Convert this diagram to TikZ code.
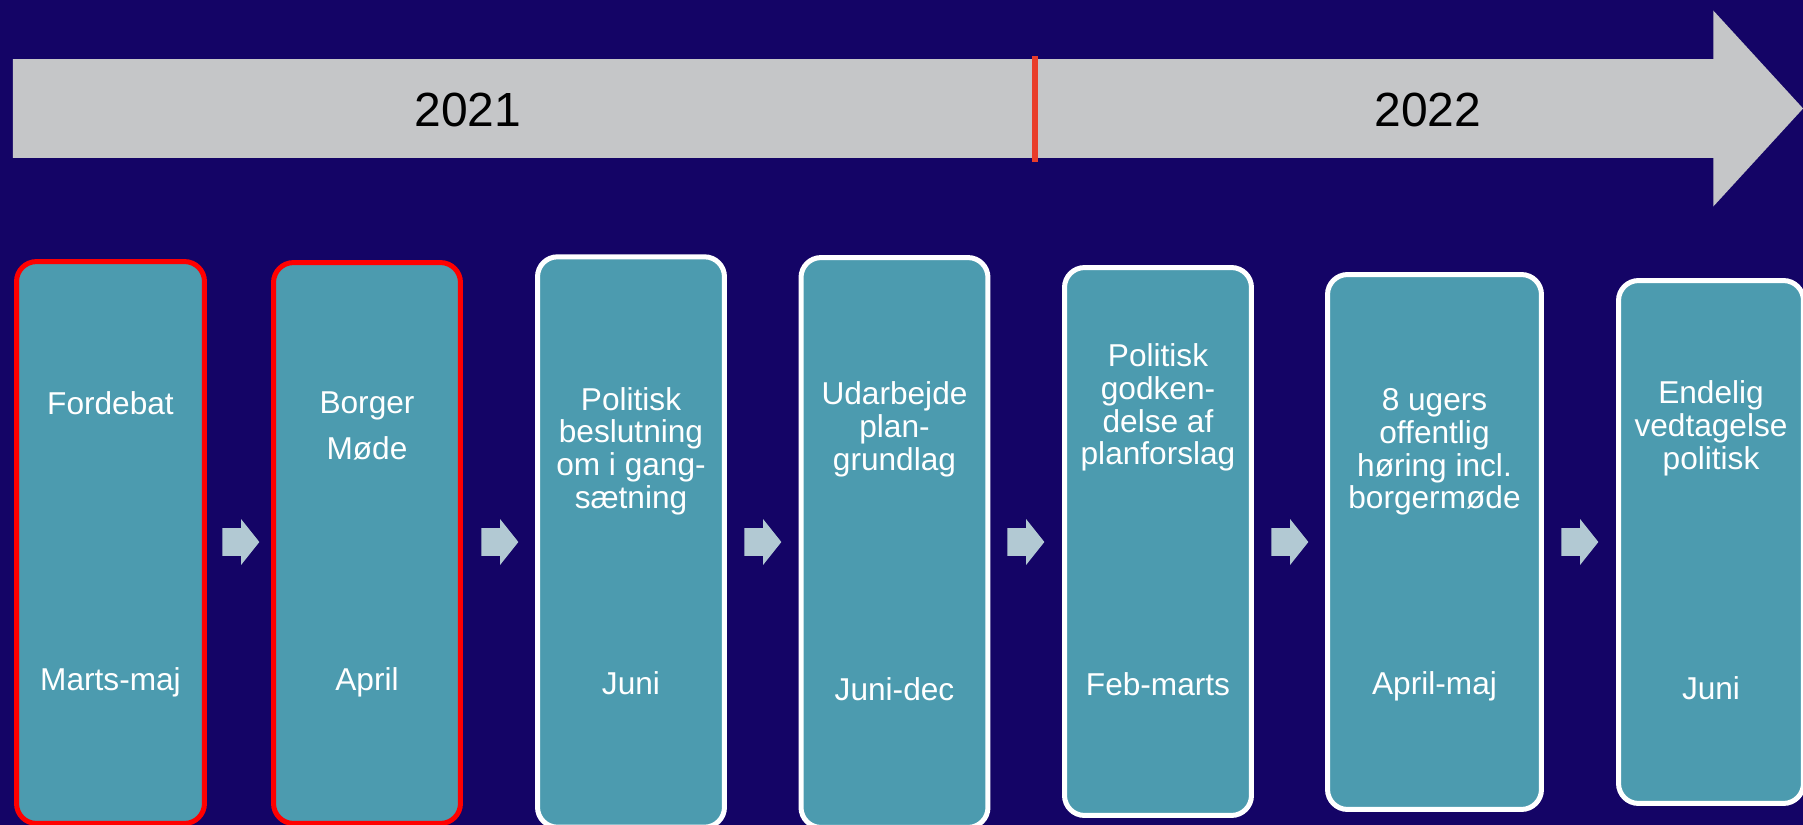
\documentclass[tikz,border=0pt]{standalone}
\usepackage{fontspec}
\setmainfont{Liberation Sans}
\usepackage{tikz}
\usetikzlibrary{positioning, shapes.arrows}

\definecolor{bgnavy}{RGB}{20,4,102}
\definecolor{stageteal}{RGB}{76,155,175}
\definecolor{bargrey}{RGB}{197,198,200}
\definecolor{stepgrey}{RGB}{178,201,211}
\definecolor{cutred}{RGB}{233,61,42}

\begin{document}
\begin{tikzpicture}[
        x=0.02cm, y=-0.02cm,
        stage/.style={rectangle, rounded corners=0.4cm, fill=stageteal, draw=white, line width=0.1cm, inner sep=0pt},
        past/.style={draw=red},
        title/.style={text=white, font=\fontsize{18}{18.5}\selectfont, align=center, anchor=base, inner sep=0pt},
        year/.style={font=\fontsize{27.3}{30}\selectfont, anchor=base, inner sep=0pt},
        flow/.style={single arrow, fill=stepgrey, minimum height=0.74cm, inner xsep=0pt, inner ysep=0.27cm,
            single arrow head extend=0.18cm, single arrow tip angle=103, anchor=tail}
    ]

        \useasboundingbox (0,0) rectangle (1803,825);
        \clip (0,0) rectangle (1803,825);
        \fill[bgnavy] (0,0) rectangle (1803,825);

        % timeline
        \node[single arrow, fill=bargrey, minimum height=35.81cm, inner xsep=0pt, inner ysep=0.98cm,
            single arrow head extend=0.97cm, single arrow tip angle=95, anchor=tail] (timeline) at (12.6,108.5) {};
        \node[year] (y2021) at (468,126.5) {2021};
        \node[year] (y2022) at (1428,126.5) {2022};
        \coordinate (cuttop) at (1035,56);
        \coordinate (cutbot) at (1035,162);
        \draw[cutred, line width=0.12cm] (cuttop) -- (cutbot);

        % stages
        \node[stage, past, minimum width=3.76cm, minimum height=11.24cm] (b1) at (110.5,542.5) {};
        \node[stage, past, minimum width=3.74cm, minimum height=11.22cm] (b2) at (367,543) {};
        \node[stage, minimum width=3.74cm, minimum height=11.41cm] (b3) at (631,542) {};
        \node[stage, minimum width=3.74cm, minimum height=11.40cm] (b4) at (894.5,542.5) {};
        \node[stage, minimum width=3.74cm, minimum height=10.96cm] (b5) at (1158,541.5) {};
        \node[stage, minimum width=4.28cm, minimum height=10.70cm] (b6) at (1434.5,542) {};
        \node[stage, minimum width=3.70cm, minimum height=10.46cm] (b7) at (1711,542) {};

        \node[flow] (s1) at (222,542) {};
        \node[flow] (s2) at (481,542) {};
        \node[flow] (s3) at (744,542) {};
        \node[flow] (s4) at (1007,542) {};
        \node[flow] (s5) at (1271,542) {};
        \node[flow] (s6) at (1561,542) {};

        % base = last line
        \node[title] (t1) at (b1 |- 0,414) {Fordebat};
        \node[title] (d1) at (b1 |- 0,690) {Marts-maj};
        \node[title] (t2) at (b2 |- 0,459) {Borger\\[7.5pt]Møde};
        \node[title] (d2) at (b2 |- 0,690) {April};
        \node[title] (t3) at (b3 |- 0,508) {Politisk\\beslutning\\om i gang-\\sætning};
        \node[title] (d3) at (b3 |- 0,694) {Juni};
        \node[title] (t4) at (b4 |- 0,470) {Udarbejde\\plan-\\grundlag};
        \node[title] (d4) at (b4 |- 0,700) {Juni-dec};
        \node[title] (t5) at (b5 |- 0,464.5) {Politisk\\godken-\\delse af\\planforslag};
        \node[title] (d5) at (b5 |- 0,695.5) {Feb-marts};
        \node[title] (t6) at (b6 |- 0,508.5) {8 ugers\\offentlig\\høring incl.\\borgermøde};
        \node[title] (d6) at (b6 |- 0,694) {April-maj};
        \node[title] (t7) at (b7 |- 0,469) {Endelig\\vedtagelse\\politisk};
        \node[title] (d7) at (b7 |- 0,699) {Juni};

    \end{tikzpicture}
\end{document}
